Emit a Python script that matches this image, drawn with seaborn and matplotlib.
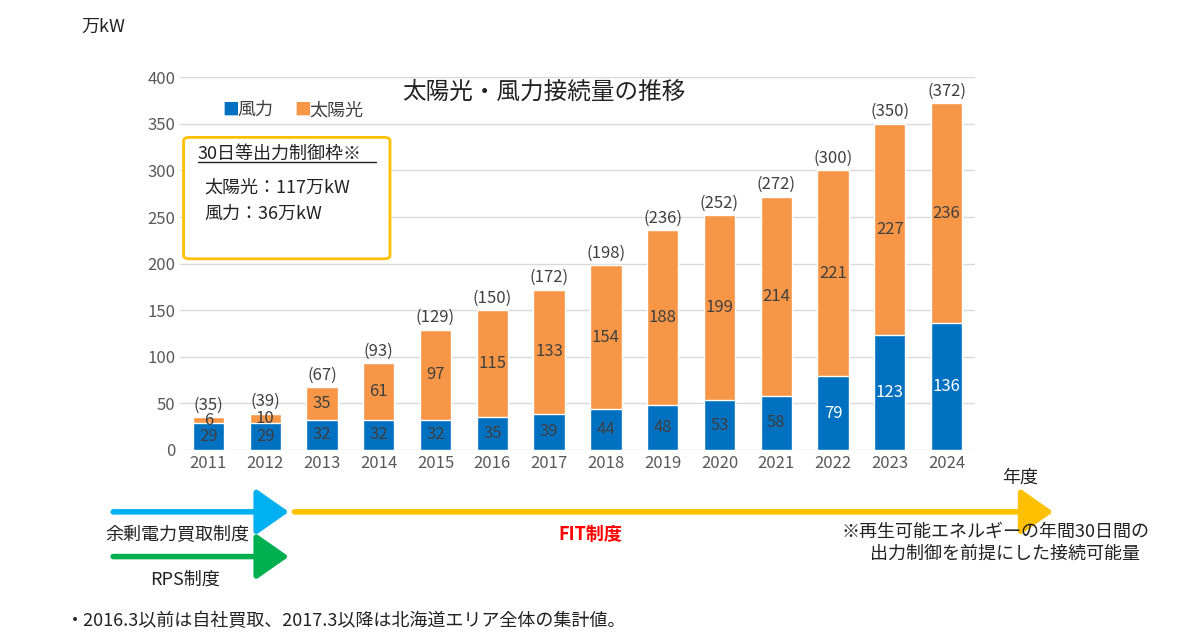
import matplotlib
matplotlib.use("Agg")
import matplotlib.pyplot as plt
import seaborn as sns
import pandas as pd
from matplotlib.patches import FancyBboxPatch

years = [2011,2012,2013,2014,2015,2016,2017,2018,2019,2020,2021,2022,2023,2024]
wind = [29,29,32,32,32,35,39,44,48,53,58,79,123,136]
solar = [6,10,35,61,97,115,133,154,188,199,214,221,227,236]
totals = [35,39,67,93,129,150,172,198,236,252,272,300,350,372]

sns.set_theme(style="white")
plt.rcParams['font.family'] = ['Noto Sans CJK JP', 'DejaVu Sans']

BLUE = "#0070C0"; ORANGE = "#F79646"
fig = plt.figure(figsize=(12, 6.39), dpi=100)
ax = fig.add_axes([0.15, 0.296, 0.6625, 0.583])
df = pd.DataFrame({"year": [str(y) for y in years], "total": [w+s for w, s in zip(wind, solar)], "wind": wind})
sns.barplot(data=df, x="year", y="total", color=ORANGE, width=0.55, ax=ax, saturation=1)
sns.barplot(data=df, x="year", y="wind", color=BLUE, width=0.55, ax=ax, saturation=1)
ax.set_ylim(0, 400)
ax.set_xlim(-0.5, 13.5)
ax.set_yticks(range(0, 401, 50))
ax.yaxis.grid(True, color="#d9d9d9", lw=1)
ax.set_axisbelow(True)
for s in ax.spines.values():
    s.set_visible(False)
ax.set_xlabel(""); ax.set_ylabel("")
ax.tick_params(axis="both", colors="#595959", labelsize=12, length=0)
for i in range(len(years)):
    ax.text(i, wind[i]/2, str(wind[i]), ha="center", va="center", fontsize=12,
            color="white" if i >= 11 else "#404040")
    ax.text(i, wind[i] + solar[i]/2, str(solar[i]), ha="center", va="center", fontsize=12, color="#404040")
    ax.text(i, wind[i] + solar[i] + 4, f"({totals[i]})", ha="center", va="bottom", fontsize=12, color="#404040")

fig.text(0.068, 0.95, "万kW", fontsize=13, color="#222")
fig.text(0.835, 0.245, "年度", fontsize=13, color="#222")
fig.text(0.335, 0.845, "太陽光・風力接続量の推移", fontsize=17, color="#222")
fig.text(0.185, 0.82, "■", color=BLUE, fontsize=12)
fig.text(0.198, 0.82, "風力", color="#404040", fontsize=13)
fig.text(0.245, 0.82, "■", color=ORANGE, fontsize=12)
fig.text(0.258, 0.82, "太陽光", color="#404040", fontsize=13)
box = FancyBboxPatch((0.153, 0.595), 0.172, 0.19, boxstyle="round,pad=0,rounding_size=0.005",
                     transform=fig.transFigure, fill=True, fc="white", ec="#FFC000", lw=2)
fig.patches.append(box)
fig.text(0.165, 0.752, "30日等出力制御枠※", fontsize=13, color="#222")
fig.add_artist(plt.Line2D([0.165, 0.313], [0.747, 0.747], transform=fig.transFigure, color="#222", lw=1))
fig.text(0.17, 0.698, "太陽光：117万kW", fontsize=13, color="#222")
fig.text(0.17, 0.658, "風力：36万kW", fontsize=13, color="#222")

def arrow(x0, x1, y, c):
    fig.add_artist(matplotlib.patches.FancyArrowPatch((x0, y), (x1, y), transform=fig.transFigure,
                   arrowstyle="-|>,head_length=10,head_width=7", color=c, lw=4, mutation_scale=2))
arrow(0.092, 0.243, 0.199, "#00B0F0")
arrow(0.243, 0.88, 0.199, "#FFC000")
arrow(0.092, 0.243, 0.129, "#00B050")
fig.text(0.088, 0.155, "余剰電力買取制度", fontsize=13, color="#222")
fig.text(0.465, 0.155, "FIT制度", fontsize=13, color="#FF0000", weight="bold")
fig.text(0.125, 0.085, "RPS制度", fontsize=13, color="#222")
fig.text(0.83, 0.125, "※再生可能エネルギーの年間30日間の\n　出力制御を前提にした接続可能量", fontsize=13, color="#222", ha="center", linespacing=1.3)
fig.text(0.055, 0.02, "・2016.3以前は自社買取、2017.3以降は北海道エリア全体の集計値。", fontsize=13, color="#222")
fig.savefig("out.png", dpi=100)
